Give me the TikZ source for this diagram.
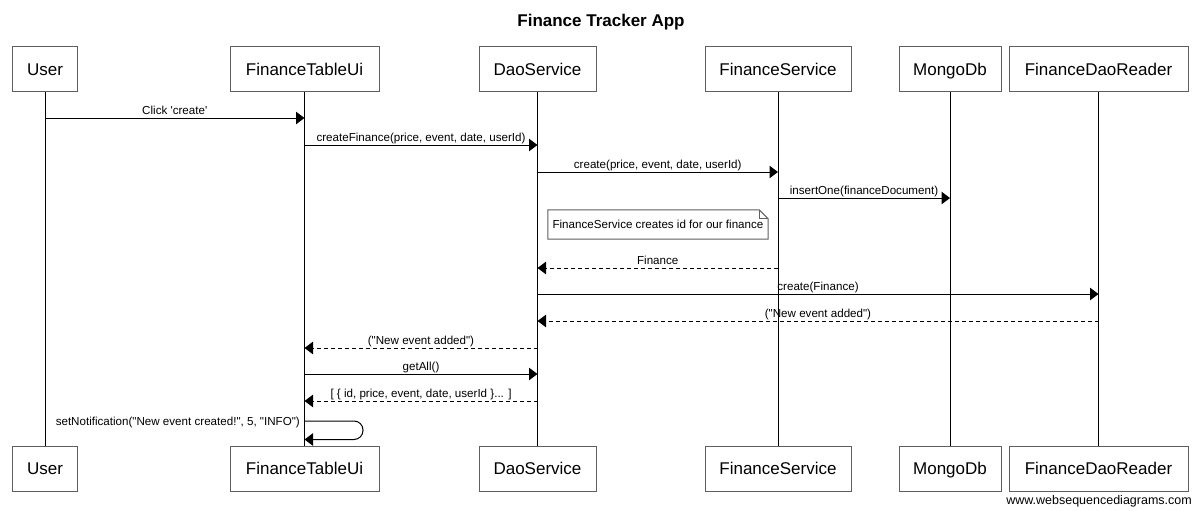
\documentclass[tikz,border=0pt]{standalone}
\usepackage{fontspec}
\setmainfont{Liberation Sans}[Ligatures=TeXOff]
\usetikzlibrary{arrows.meta}
\definecolor{boxline}{RGB}{95,95,95}
\begin{document}
\begin{tikzpicture}[x=1pt,y=-1pt,
  part/.style={draw=boxline, line width=1pt, fill=white, inner sep=0pt,
    minimum height=45pt, font=\fontsize{17}{20}\selectfont,
    text height=12.2pt, text depth=0pt},
  life/.style={line width=1pt, black},
  msg/.style={line width=1pt, black, -{Triangle[length=8.5pt,width=12.5pt]}},
  ret/.style={msg, dash pattern=on 4pt off 3pt},
  lbl/.style={font=\fontsize{11.6}{14}\selectfont, inner sep=0pt, anchor=base, yshift=3.5pt},
]
\useasboundingbox (0,0) rectangle (1200,511);
\fill[white] (0,0) rectangle (1200,511);

\node[font=\bfseries\fontsize{17}{20}\selectfont, anchor=base, inner sep=0pt] (title) at (601,27) {Finance Tracker App};

% participants (top)
\node[part, minimum width=65pt]  (u)   at (45,69.5)    {User};
\node[part, minimum width=149pt] (ftu) at (304.5,69.5) {FinanceTableUi};
\node[part, minimum width=117pt] (dao) at (537.5,69.5) {DaoService};
\node[part, minimum width=146pt] (fs)  at (778,69.5)   {FinanceService};
\node[part, minimum width=102pt] (mdb) at (950,69.5)   {MongoDb};
\node[part, minimum width=179pt] (fdr) at (1098.5,69.5){FinanceDaoReader};
% participants (bottom)
\node[part, minimum width=65pt]  (ub)   at (45,468.5)    {User};
\node[part, minimum width=149pt] (ftub) at (304.5,468.5) {FinanceTableUi};
\node[part, minimum width=117pt] (daob) at (537.5,468.5) {DaoService};
\node[part, minimum width=146pt] (fsb)  at (778,468.5)   {FinanceService};
\node[part, minimum width=102pt] (mdbb) at (950,468.5)   {MongoDb};
\node[part, minimum width=179pt] (fdrb) at (1098.5,468.5){FinanceDaoReader};

% lifelines
\draw[life] (u.south) -- (ub.north);
\draw[life] (ftu.south) -- (ftub.north);
\draw[life] (dao.south) -- (daob.north);
\draw[life] (fs.south) -- (fsb.north);
\draw[life] (mdb.south) -- (mdbb.north);
\draw[life] (fdr.south) -- (fdrb.north);

% messages
\draw[msg] (u |- 0,118) -- node[lbl] {Click 'create'} (ftu |- 0,118);
\draw[msg] (ftu |- 0,145) -- node[lbl] {createFinance(price, event, date, userId)} (dao |- 0,145);
\draw[msg] (dao |- 0,172) -- node[lbl] {create(price, event, date, userId)} (fs |- 0,172);
\draw[msg] (fs |- 0,198) -- node[lbl] {insertOne(financeDocument)} (mdb |- 0,198);

% note
\node[minimum width=220pt, minimum height=29pt, inner sep=0pt] (note) at (658,224.5) {};
\draw[boxline, line width=1pt, fill=white]
  (note.south west) -- (note.north west) -- ([xshift=-9pt]note.north east)
  -- ([yshift=-9pt]note.north east) -- (note.south east) -- cycle;
\draw[boxline, line width=1pt]
  ([xshift=-9pt]note.north east) -- ([xshift=-9pt,yshift=-9pt]note.north east)
  -- ([yshift=-9pt]note.north east);
\node[font=\fontsize{11.6}{14}\selectfont, inner sep=0pt] (notetext) at (note.center)
  {FinanceService creates id for our finance};

\draw[ret] (fs |- 0,268) -- node[lbl] {Finance} (dao |- 0,268);
\draw[msg] (dao |- 0,294) -- node[lbl] {create(Finance)} (fdr |- 0,294);
\draw[ret] (fdr |- 0,321) -- node[lbl] {("New event added")} (dao |- 0,321);
\draw[ret] (dao |- 0,348) -- node[lbl] {("New event added")} (ftu |- 0,348);
\draw[msg] (ftu |- 0,374) -- node[lbl] {getAll()} (dao |- 0,374);
\draw[ret] (dao |- 0,401) -- node[lbl] {[ \{ id, price, event, date, userId \}... ]} (ftu |- 0,401);

% self message
\coordinate (loopr) at (363,421);
\draw[msg, rounded corners=9pt] (ftu |- loopr) -- (loopr) -- (loopr |- 0,439.5) -- (ftu |- 0,439.5);
\node[font=\fontsize{11.6}{14}\selectfont, inner sep=0pt, anchor=base east] (selflbl) at (300,425)
  {setNotification("New event created!", 5, "INFO")};

% watermark
\node[font=\fontsize{12.5}{14}\selectfont, inner sep=0pt, anchor=base east] (wm) at (1192,504)
  {www.websequencediagrams.com};
\end{tikzpicture}
\end{document}
